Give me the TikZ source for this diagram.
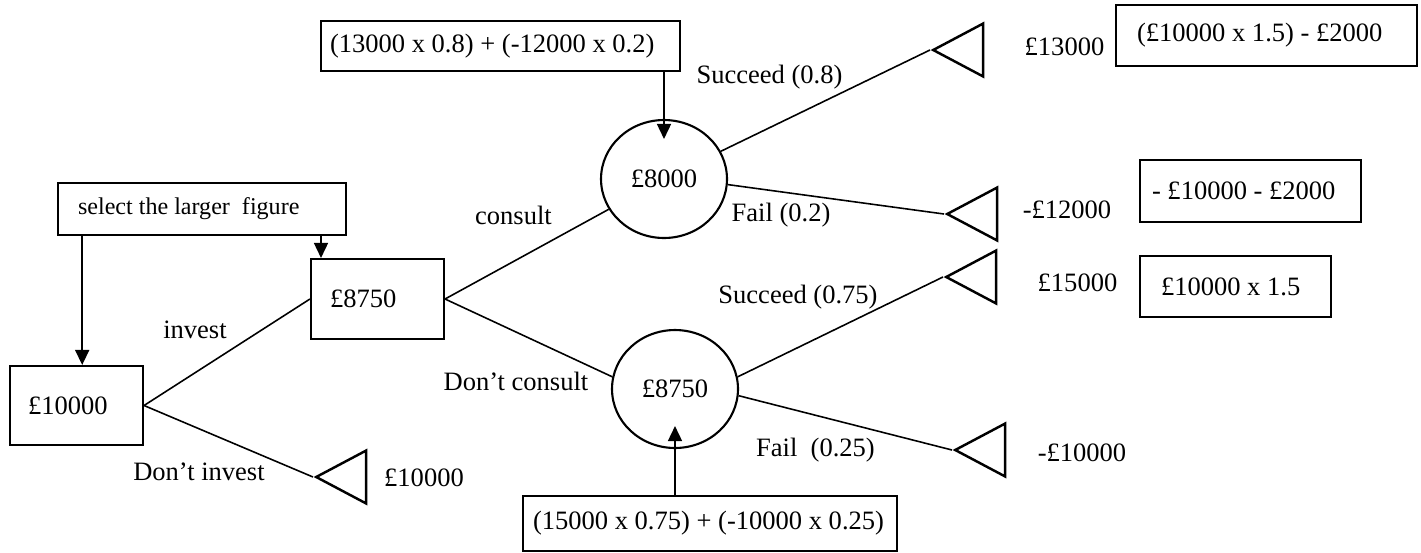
\documentclass[tikz,border=0pt]{standalone}
\usepackage{fontspec}
\setmainfont{Liberation Serif}
\usetikzlibrary{shapes,arrows.meta,positioning,calc}

\begin{document}
\begin{tikzpicture}[x=0.02cm,y=-0.02cm,
    font=\fontsize{15.1}{18}\selectfont,
    valbox/.style={draw, line width=1.2pt, align=flush left, inner ysep=0pt},
    chance/.style={draw, ellipse, line width=1.2pt, minimum width=2.52cm, minimum height=2.36cm, inner sep=0pt},
    endtri/.style={draw, isosceles triangle, isosceles triangle stretches, shape border rotate=180,
        minimum width=1.06cm, minimum height=1.0cm, inner sep=0pt, line width=1.4pt, anchor=apex},
    branch/.style={line width=0.9pt},
    arr/.style={line width=0.9pt, -{Triangle[length=0.3cm,width=0.28cm]}}]
    \useasboundingbox (0,0) rectangle (1421,552);

    % decision nodes
    \node[valbox, text width=1.94cm, inner xsep=0.36cm, minimum height=1.58cm] (start) at (76.5,405.5) {£10000};
    \node[valbox, text width=1.9cm, inner xsep=0.38cm, minimum height=1.6cm] (inv) at (377.5,299) {£8750};
    \node[valbox, text width=4.96cm, inner xsep=0.4cm, minimum height=1.04cm, font=\fontsize{13.7}{16}\selectfont] (sel) at (202,209) {select the larger~ figure};

    % chance nodes
    \node[chance] (cons) at (664,179) {£8000};
    \node[chance] (nocons) at (675,389) {£8750};
    \node[valbox, text width=6.82cm, inner xsep=0.18cm, minimum height=1.0cm] (ev1) at (500.5,46) {(13000 x 0.8) + (-12000 x 0.2)};
    \node[valbox, text width=7.08cm, inner xsep=0.2cm, minimum height=1.1cm] (ev2) at (710,523.5) {(15000 x 0.75) + (-10000 x 0.25)};

    % end points
    \node[endtri] (e0) at (313,477) {};
    \node[endtri] (e1) at (930,50) {};
    \node[endtri] (e2) at (944,214) {};
    \node[endtri] (e3) at (943,277) {};
    \node[endtri] (e4) at (952,450) {};

    \node (p0) at (424,478) {£10000};
    \node (p1) at (1064.5,47) {£13000};
    \node (p2) at (1067,210) {-£12000};
    \node (p3) at (1077.5,283) {£15000};
    \node (p4) at (1082,453) {-£10000};

    \node[valbox, text width=5.18cm, inner xsep=0.42cm, minimum height=1.22cm] (w1) at (1266.5,35.5) {(£10000 x 1.5) - £2000};
    \node[valbox, text width=3.94cm, inner xsep=0.24cm, minimum height=1.24cm] (w2) at (1250.5,191) {- £10000 - £2000};
    \node[valbox, text width=2.98cm, inner xsep=0.42cm, minimum height=1.22cm] (w3) at (1235.5,286.5) {£10000 x 1.5};

    % branches
    \draw[branch] (start.east) -- (inv.west);
    \draw[branch] (start.east) -- (e0.apex);
    \draw[branch] (inv.east) -- (cons);
    \draw[branch] (inv.east) -- (nocons.169);
    \draw[branch] (cons.26) -- (e1.apex);
    \draw[branch] (cons.-5) -- (e2.apex);
    \draw[branch] (nocons.11) -- (e3.apex);
    \draw[branch] (nocons.-6) -- (e4.apex);

    \node (linv) at (195,330) {invest};
    \node (lnoinv) at (199,472) {Don’t invest};
    \node (lcons) at (513.5,215) {consult};
    \node (lnocons) at (516,381) {Don’t consult};
    \node (ls1) at (769.5,77) {Succeed (0.8)};
    \node (lf1) at (781,215) {Fail (0.2)};
    \node (ls2) at (798,297) {Succeed (0.75)};
    \node (lf2) at (815.5,450) {Fail~ (0.25)};

    % working arrows
    \draw[arr] (sel.south -| start.82) -- (start.82);
    \draw[arr] (sel.south -| inv.144) -- (inv.144);
    \draw[arr, shorten >=-0.4cm] (ev1.south -| cons) -- (cons);
    \draw[arr, shorten >=-0.46cm] (ev2.north -| nocons) -- (nocons);
\end{tikzpicture}
\end{document}
